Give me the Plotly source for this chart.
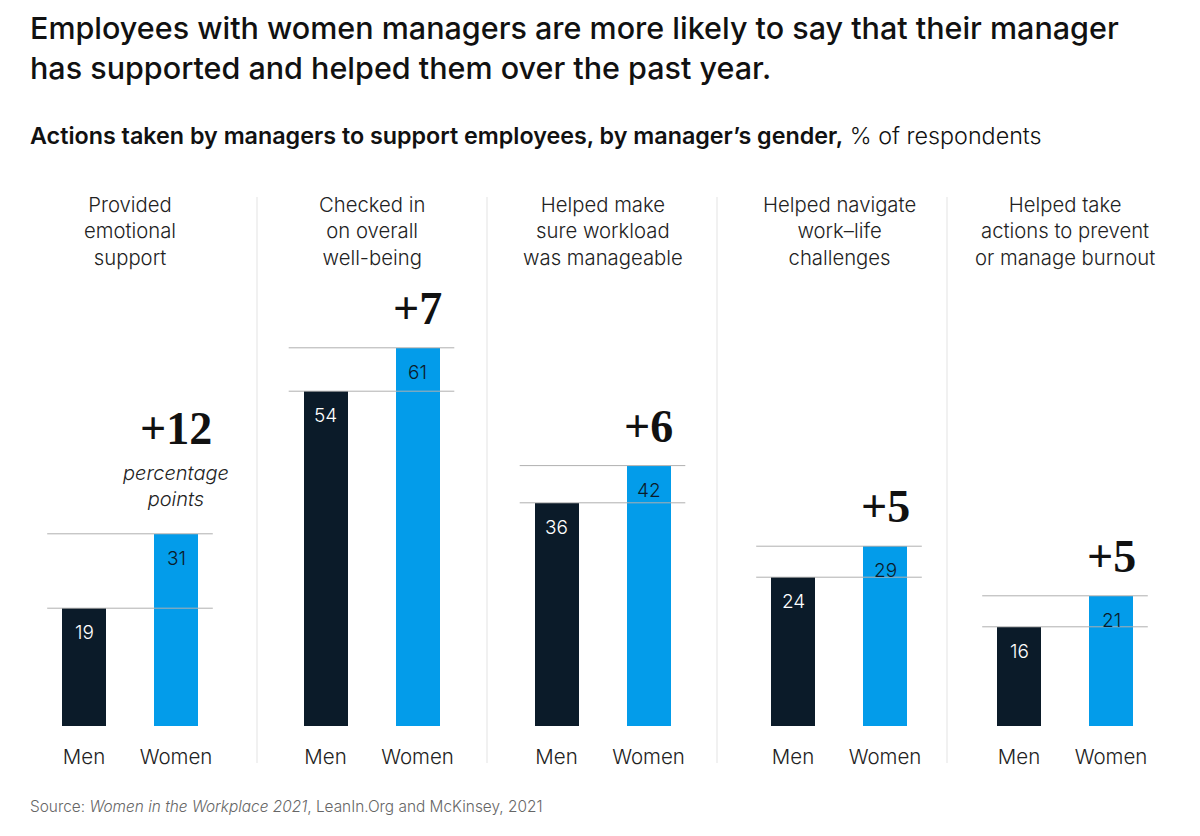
import plotly.graph_objects as go

categories = [
    "Provided<br>emotional<br>support",
    "Checked in<br>on overall<br>well-being",
    "Helped make<br>sure workload<br>was manageable",
    "Helped navigate<br>work–life<br>challenges",
    "Helped take<br>actions to prevent<br>or manage burnout",
]
genders = ["Men", "Women"]
men = [19, 54, 36, 24, 16]
women = [31, 61, 42, 29, 21]

W, H = 1200, 836
MEN_C = "#0b1b29"
WOMEN_C = "#039cea"
FONT = "Inter"

centers = [130, 371.5, 602.5, 839, 1065]
half = 92
dividers = [257, 487, 717, 947]
y_bottom_px = 726
px_per_unit = 6.2
yrange_top = 100

def py(px):
    return (H - px) / H

fig = go.Figure()
layout = {}
shapes = []
annotations = []

for i in range(5):
    ax = "x" if i == 0 else f"x{i+1}"
    axname = "xaxis" if i == 0 else f"xaxis{i+1}"
    fig.add_trace(go.Bar(
        x=genders, y=[men[i], women[i]], xaxis=ax, yaxis="y",
        marker=dict(color=[MEN_C, WOMEN_C], line=dict(width=0)),
        width=0.48, showlegend=False, hoverinfo="skip",
    ))
    layout[axname] = dict(
        domain=[(centers[i] - half) / W, (centers[i] + half) / W],
        anchor="y", range=[-0.5, 1.5], type="category",
        showgrid=False, zeroline=False, showline=False, ticks="",
        tickfont=dict(family=FONT, size=20.5, color="#222222", weight=300),
        ticklabelstandoff=16, fixedrange=True,
    )
    for v in (men[i], women[i]):
        shapes.append(dict(type="line", xref=ax, yref="y", x0=-0.4, x1=1.4,
                           y0=v, y1=v, line=dict(color="#b0b0b0", width=1),
                           layer="above"))
    # value labels inside bars
    annotations.append(dict(xref=ax, yref="y", x="Men", y=men[i], text=str(men[i]),
                            showarrow=False, yanchor="top", yshift=-11,
                            font=dict(family=FONT, size=19, color="#ffffff", weight=300)))
    annotations.append(dict(xref=ax, yref="y", x="Women", y=women[i], text=str(women[i]),
                            showarrow=False, yanchor="top", yshift=-11,
                            font=dict(family=FONT, size=19, color="#0b1b29", weight=300)))
    # difference label
    diff = women[i] - men[i]
    extra = 0 if i != 0 else 66
    annotations.append(dict(xref=ax, yref="y", x="Women", y=women[i], text=f"+{diff}",
                            showarrow=False, yanchor="bottom", yshift=12 + extra,
                            font=dict(family="Liberation Serif", size=46, color="#111111",
                                      weight="bold")))
    # header
    annotations.append(dict(xref="paper", yref="paper", x=centers[i] / W, y=py(231),
                            text=categories[i], showarrow=False, xanchor="center",
                            yanchor="middle", align="center",
                            font=dict(family=FONT, size=20.3, color="#222222", weight=300)))

annotations.append(dict(xref="x", yref="y", x="Women", y=women[0],
                        text="<i>percentage<br>points</i>", showarrow=False,
                        yanchor="bottom", yshift=21, align="center",
                        font=dict(family=FONT, size=20, color="#222222", weight=300)))

for d in dividers:
    shapes.append(dict(type="line", xref="paper", yref="paper", x0=d / W, x1=d / W,
                       y0=py(763), y1=py(197), line=dict(color="#e3e3e3", width=1)))

annotations.append(dict(xref="paper", yref="paper", x=28 / W, y=py(7),
                        xanchor="left", yanchor="top", align="left", showarrow=False,
                        text="Employees with women managers are more likely to say that their manager<br>has supported and helped them over the past year.",
                        font=dict(family=FONT, size=30.5, color="#111111", weight=500)))
annotations.append(dict(xref="paper", yref="paper", x=28 / W, y=py(136),
                        xanchor="left", yanchor="middle", align="left", showarrow=False,
                        text="<span style='font-weight:600'>Actions taken by managers to support employees, by manager’s gender,</span> % of respondents",
                        font=dict(family=FONT, size=23.3, color="#111111", weight=300)))
annotations.append(dict(xref="paper", yref="paper", x=28 / W, y=py(806),
                        xanchor="left", yanchor="middle", align="left", showarrow=False,
                        text="Source: <i>Women in the Workplace 2021</i>, LeanIn.Org and McKinsey, 2021",
                        font=dict(family=FONT, size=15.4, color="#666666", weight=300)))

y_top_px = y_bottom_px - yrange_top * px_per_unit
layout["yaxis"] = dict(domain=[py(y_bottom_px), py(y_top_px)], range=[0, yrange_top],
                       visible=False, fixedrange=True)

fig.update_layout(
    width=W, height=H, margin=dict(l=0, r=0, t=0, b=0),
    paper_bgcolor="white", plot_bgcolor="white",
    shapes=shapes, annotations=annotations, bargap=0,
    **layout,
)

fig.write_html("out.html", config={"displayModeBar": False})
